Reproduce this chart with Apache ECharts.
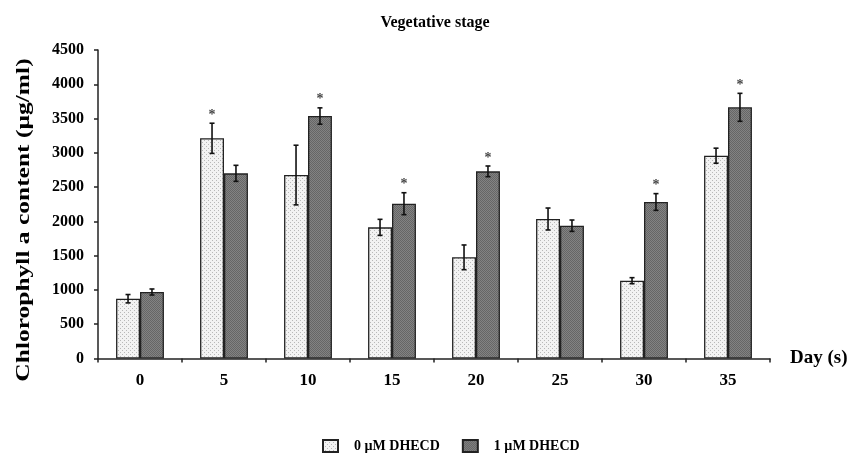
<!DOCTYPE html>
<html>
<head>
<meta charset="utf-8">
<script src="https://cdn.jsdelivr.net/npm/echarts@6/dist/echarts.min.js"></script>
<style>
  html, body { margin: 0; padding: 0; background: #fff; }
  #chart { width: 856px; height: 462px; }
</style>
</head>
<body>
<div id="chart"></div>
<script>
// Chlorophyll a content during the vegetative stage
const days = ['0', '5', '10', '15', '20', '25', '30', '35'];
const control = [872, 3212, 2676, 1913, 1476, 2035, 1135, 2958];
const controlErr = [61, 220, 435, 117, 180, 160, 44, 110];
const treated = [970, 2701, 3537, 2258, 2730, 1937, 2283, 3664];
const treatedErr = [44, 117, 119, 160, 78, 83, 122, 204];
// significance marks (1 = asterisk above the bar)
const controlSig = [0, 1, 0, 0, 0, 0, 0, 0];
const treatedSig = [0, 0, 1, 1, 1, 0, 1, 1];
const seriesNames = ['0 \u00b5M DHECD', '1 \u00b5M DHECD'];
const yTicks = [0, 500, 1000, 1500, 2000, 2500, 3000, 3500, 4000, 4500];
const yTitle = 'Chlorophyll a content (\u00b5g/ml)';

const FONT = '"Liberation Serif", "Times New Roman", serif';

// small repeating textures for the bar fills
function makePattern(bg, dot, cells) {
  const c = document.createElement('canvas');
  c.width = 4; c.height = 4;
  const g = c.getContext('2d');
  g.fillStyle = bg; g.fillRect(0, 0, 4, 4);
  g.fillStyle = dot;
  cells.forEach(([x, y]) => g.fillRect(x, y, 1, 1));
  return { image: c, repeat: 'repeat' };
}
const lightFill = makePattern('#f2f2f2', '#b8b8b8', [[0, 0], [2, 2]]);
const darkFill = makePattern('#838383', '#666666', [[0, 0], [2, 0], [1, 1], [3, 1], [0, 2], [2, 2], [1, 3], [3, 3]]);

const CAT_GAP = 0.43;               // barCategoryGap fraction
const HALF_OFF = (1 - CAT_GAP) / 4; // centre offset of each bar in band units

function errorSeries(values, errs, sig, side) {
  return {
    type: 'custom',
    silent: true,
    z: 5,
    data: values.map((v, i) => [i, v, errs[i], sig[i]]),
    renderItem: function (params, api) {
      const idx = api.value(0);
      const v = api.value(1);
      const e = api.value(2);
      const band = api.size([1, 0])[0];
      const xc = api.coord([idx, v])[0] + side * band * HALF_OFF;
      const yHi = api.coord([idx, v + e])[1];
      const yLo = api.coord([idx, v - e])[1];
      const cap = 2.5;
      const st = { stroke: '#111', lineWidth: 1.6 };
      const children = [
        { type: 'line', shape: { x1: xc, y1: yHi, x2: xc, y2: yLo }, style: st },
        { type: 'line', shape: { x1: xc - cap, y1: yHi, x2: xc + cap, y2: yHi }, style: st },
        { type: 'line', shape: { x1: xc - cap, y1: yLo, x2: xc + cap, y2: yLo }, style: st }
      ];
      if (api.value(3)) {
        children.push({
          type: 'text',
          style: {
            x: xc, y: yHi - 1, text: '*',
            fill: '#444', font: 'bold 14px ' + FONT,
            textAlign: 'center', textVerticalAlign: 'bottom'
          }
        });
      }
      return { type: 'group', children: children };
    }
  };
}

const chart = echarts.init(document.getElementById('chart'), null, { renderer: 'canvas' });
chart.setOption({
  animation: false,
  backgroundColor: '#fff',
  title: {
    text: 'Vegetative stage',
    left: 430, top: 10, textAlign: 'center',
    textStyle: { fontFamily: FONT, fontWeight: 'bold', fontSize: 16, color: '#000' }
  },
  grid: { left: 98, right: 86, top: 50, bottom: 103.5, containLabel: false },
  legend: {
    bottom: 4, left: 317,
    icon: 'rect',
    itemWidth: 15, itemHeight: 12, itemGap: 22,
    data: seriesNames,
    textStyle: { fontFamily: FONT, fontWeight: 'bold', fontSize: 14, color: '#000', padding: [0, 0, 0, 11] }
  },
  // rotated axis title, stretched along its length
  graphic: [{
    type: 'text',
    x: 24, y: 220,
    rotation: Math.PI / 2,
    scaleX: 1.34, scaleY: 1,
    style: {
      text: yTitle,
      font: 'bold 19px ' + FONT,
      fill: '#000',
      textAlign: 'center',
      textVerticalAlign: 'middle'
    }
  }],
  xAxis: {
    type: 'category',
    data: days,
    name: 'Day (s)',
    nameLocation: 'end',
    nameGap: 20,
    nameTextStyle: { fontFamily: FONT, fontWeight: 'bold', fontSize: 19, color: '#000', verticalAlign: 'middle', padding: [2, 0, 0, 0] },
    axisLine: { lineStyle: { color: '#222', width: 1.5 } },
    axisTick: { show: true, length: 4, lineStyle: { color: '#222', width: 1.5 } },
    axisLabel: { fontFamily: FONT, fontWeight: 'bold', fontSize: 17, color: '#000', margin: 14 },
    splitLine: { show: false }
  },
  yAxis: {
    type: 'value',
    min: yTicks[0], max: yTicks[yTicks.length - 1], interval: 500,
    axisLine: { show: true, lineStyle: { color: '#222', width: 1.5 } },
    axisTick: { show: true, length: 4, lineStyle: { color: '#222', width: 1.5 } },
    axisLabel: {
      fontFamily: FONT, fontWeight: 'bold', fontSize: 16, color: '#000', margin: 14,
      formatter: function (v) { return String(v); }
    },
    splitLine: { show: false }
  },
  series: [
    {
      name: seriesNames[0], type: 'bar', data: control,
      barGap: '0%', barCategoryGap: (CAT_GAP * 100) + '%',
      itemStyle: { color: lightFill, borderColor: '#222', borderWidth: 1.3 }
    },
    {
      name: seriesNames[1], type: 'bar', data: treated,
      barGap: '0%', barCategoryGap: (CAT_GAP * 100) + '%',
      itemStyle: { color: darkFill, borderColor: '#222', borderWidth: 1.3 }
    },
    errorSeries(control, controlErr, controlSig, -1),
    errorSeries(treated, treatedErr, treatedSig, 1)
  ]
});
</script>
</body>
</html>
